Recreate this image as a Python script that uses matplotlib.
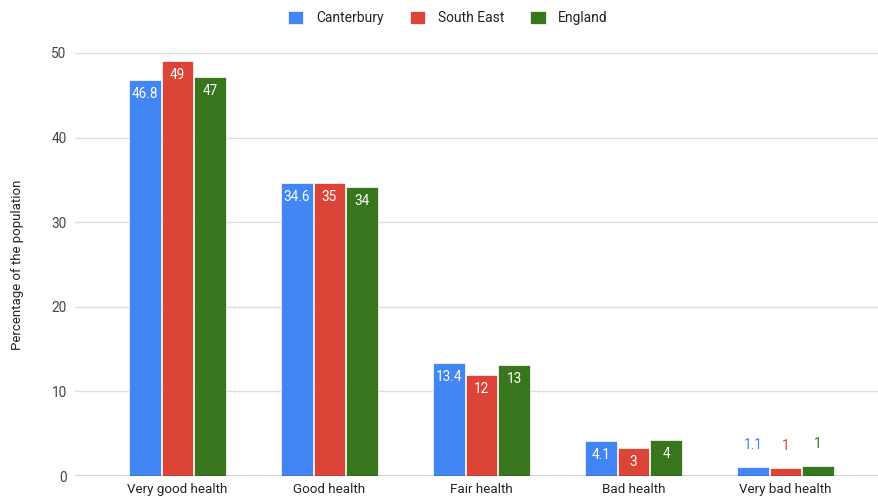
import matplotlib
matplotlib.use("Agg")
import matplotlib.pyplot as plt
import numpy as np

categories = ["Very good health", "Good health", "Fair health", "Bad health", "Very bad health"]
series_names = ["Canterbury", "South East", "England"]
canterbury = [46.8, 34.6, 13.4, 4.1, 1.1]
south_east = [49.0, 34.6, 11.9, 3.3, 1.0]
england = [47.2, 34.2, 13.1, 4.3, 1.2]
canterbury_labels = ["46.8", "34.6", "13.4", "4.1", "1.1"]
south_east_labels = ["49", "35", "12", "3", "1"]
england_labels = ["47", "34", "13", "4", "1"]
y_ticks = [0, 10, 20, 30, 40, 50]

colors = ["#4285F4", "#DB4437", "#38761D"]
plt.rcParams['font.family'] = ['Roboto', 'DejaVu Sans']

fig = plt.figure(figsize=(8.79, 4.99), dpi=100)
ax = fig.add_axes([75/879, 1-476/499, (879-75)/879, (476-53)/499])

x = np.arange(len(categories))
w = 0.208
offs = [-0.215, 0.0, 0.215]
all_vals = [canterbury, south_east, england]
all_labels = [canterbury_labels, south_east_labels, england_labels]
for vals, labs, off, c, name in zip(all_vals, all_labels, offs, colors, series_names):
    bars = ax.bar(x + off, vals, w, color=c, label=name, zorder=3, edgecolor='white', linewidth=0.5)
    for xi, v, lab in zip(x, vals, labs):
        if v > 2.5:
            ax.annotate(lab, (xi + off, v), xytext=(0, -14), textcoords='offset pixels',
                        ha='center', va='center', color='white', fontsize=9.8, zorder=4)
        else:
            ax.annotate(lab, (xi + off, v), xytext=(0, 22), textcoords='offset pixels',
                        ha='center', va='center', color=c, fontsize=9.8, zorder=4)

ax.set_xlim((75-177.5)/152, (879-177.5)/152)
ax.set_ylim(0, 50)
ax.set_yticks(y_ticks)
ax.set_yticklabels([str(t) for t in y_ticks], color='#444444', fontsize=9.8)
ax.set_xticks(x)
ax.set_xticklabels(categories, color='#222222', fontsize=9.6)
ax.tick_params(axis='both', length=0, pad=6)
ax.tick_params(axis='x', pad=5)
ax.grid(axis='y', color='#dddddd', linewidth=1, zorder=0)
ax.axhline(0, color='#333333', linewidth=1, zorder=5)
for s in ax.spines.values():
    s.set_visible(False)
ax.set_ylabel("Percentage of the population", color='#222222', fontsize=9.5, labelpad=20)

leg = fig.legend(loc='center', bbox_to_anchor=(448/879, 1-18/499), ncol=3, frameon=False,
                 fontsize=10, handlelength=1.1, handleheight=1.1, columnspacing=1.9, handletextpad=0.9)
for t in leg.get_texts():
    t.set_color('#222222')

fig.savefig("out.png", dpi=100)
